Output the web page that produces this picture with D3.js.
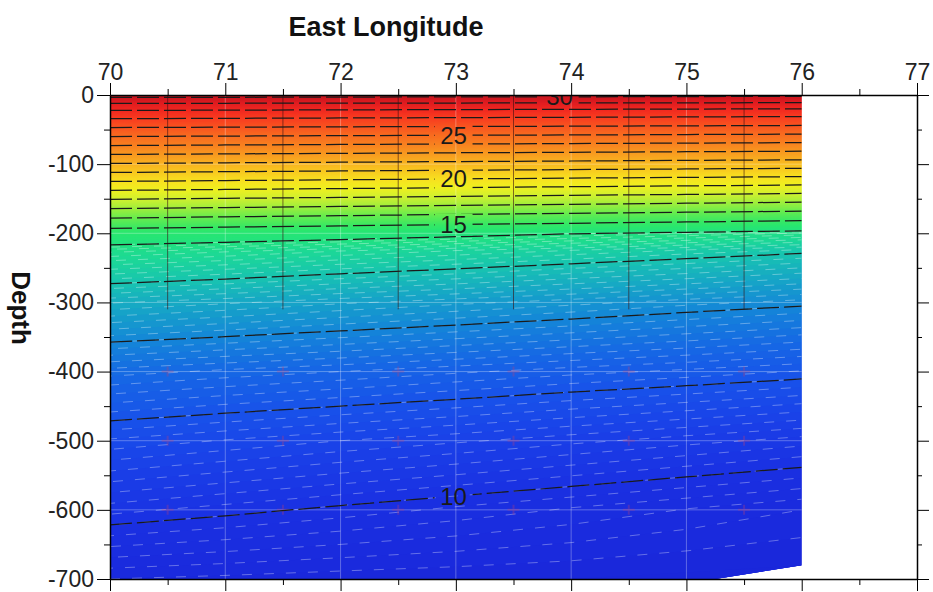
<!DOCTYPE html>
<html>
<head>
<meta charset="utf-8">
<script src="https://cdn.jsdelivr.net/npm/d3@7"></script>
<style>
  body { margin: 0; background: #fff; }
  svg text { font-family: "Liberation Sans", Arial, Helvetica, sans-serif; }
</style>
</head>
<body>
<svg id="chart" width="933" height="592"></svg>
<script>
// station section: temperature (deg C) by longitude and depth
const lons = [70, 71, 72, 73, 74, 75, 76];
const depths = [0, -10, -20, -30, -50, -75, -100, -125, -150, -175, -200, -225, -250, -300, -400, -500, -600, -700];
const temps = [
  [30.4, 30.4, 30.35, 30.3, 30.3, 30.25, 30.2],
  [29.22, 29.2, 29.19, 29.17, 29.16, 29.14, 29.13],
  [28.2, 28.17, 28.13, 28.1, 28.07, 28.03, 28.0],
  [27.33, 27.29, 27.25, 27.21, 27.17, 27.13, 27.09],
  [25.77, 25.73, 25.69, 25.65, 25.62, 25.58, 25.54],
  [23.85, 23.79, 23.73, 23.67, 23.62, 23.56, 23.5],
  [21.92, 21.85, 21.78, 21.71, 21.64, 21.57, 21.5],
  [20.0, 19.9, 19.81, 19.71, 19.61, 19.52, 19.42],
  [18.08, 17.96, 17.85, 17.73, 17.61, 17.5, 17.38],
  [16.21, 16.08, 15.96, 15.83, 15.71, 15.58, 15.46],
  [14.53, 14.4, 14.28, 14.15, 14.02, 13.9, 13.77],
  [13.74, 13.63, 13.51, 13.4, 13.29, 13.17, 13.06],
  [13.33, 13.23, 13.12, 13.02, 12.91, 12.81, 12.7],
  [12.61, 12.52, 12.42, 12.33, 12.24, 12.14, 12.05],
  [11.55, 11.47, 11.4, 11.32, 11.24, 11.17, 11.09],
  [10.78, 10.69, 10.6, 10.52, 10.43, 10.34, 10.25],
  [10.14, 10.05, 9.96, 9.87, 9.78, 9.69, 9.6],
  [9.5, 9.47, 9.44, 9.42, 9.4, 9.37, 9.35]
];
// sea floor along the section
const bottomLons = [70, 75.25, 76];
const bottomDepths = [-700, -700, -680];
// station profiles
const stationLons = [70.5, 71.5, 72.5, 73.5, 74.5, 75.5];
const stationMarkDepths = [-400, -500, -600];
// contours
const lineLevels = d3.range(10, 31);
const labelLevels = [30, 25, 20, 15, 10];
const labelLons = [73.9, 72.98, 72.98, 72.98, 72.98];
// axes
const xMajor = d3.range(70, 78);
const xMinor = d3.range(70.5, 77, 1);
const yMajor = d3.range(0, -701, -100);
const yMinor = d3.range(-50, -700, -100);

// colour ramp
const colorStops = [9, 10, 10.5, 11, 11.5, 12, 12.5, 13, 13.5, 14, 14.5, 15, 16, 17, 18, 19, 20, 21, 22, 23, 24, 25, 26, 27, 28, 29, 30, 30.5];
const colorRange = ["#1a22d6", "#1a30e2", "#1a40e8", "#1852ea", "#1668e4", "#1486d8", "#16a6c6", "#18c4b0", "#1cd896", "#22e27e",
  "#28e670", "#38e864", "#68ec4e", "#a0ee3c", "#d0f030", "#eef020", "#f8e020", "#f8c820", "#f8b020", "#f89820",
  "#f88020", "#f86c20", "#f85420", "#f83c20", "#f02820", "#e01c20", "#c81820", "#b81420"];
const color = d3.scaleLinear().domain(colorStops).range(colorRange).clamp(true);

const svg = d3.select("#chart");
const x = d3.scaleLinear().domain([70, 77]).range([110, 917]);
const y = d3.scaleLinear().domain([0, -700]).range([95, 579]);

// depth of isotherm v in station column c
function isoDepth(c, v) {
  const col = temps.map(r => r[c]);
  if (v >= col[0]) return 0;
  for (let k = 1; k < col.length; k++) {
    if (col[k] <= v) {
      const t = (col[k - 1] - v) / (col[k - 1] - col[k]);
      return depths[k - 1] + t * (depths[k] - depths[k - 1]);
    }
  }
  return depths[depths.length - 1];
}
const iso = v => lons.map((lon, c) => ({lon, depth: isoDepth(c, v)}));
const isoAt = (v, lon) => d3.scaleLinear().domain(lons).range(iso(v).map(d => d.depth))(lon);

const defs = svg.append("defs");
const outline = [[70, 0], [76, 0]].concat(bottomLons.map((l, i) => [l, bottomDepths[i]]).reverse());
defs.append("clipPath").attr("id", "dataclip")
  .append("path")
  .attr("d", d3.line().x(d => x(d[0])).y(d => y(d[1]))(outline) + "Z");

const labels = labelLevels.map((v, i) => ({v, lon: labelLons[i], depth: isoAt(v, labelLons[i])}));

const mask = defs.append("mask").attr("id", "lblmask")
  .attr("maskUnits", "userSpaceOnUse")
  .attr("x", 0).attr("y", 0).attr("width", 933).attr("height", 592);
mask.append("rect").attr("width", 933).attr("height", 592).attr("fill", "#fff");
mask.selectAll("rect.hole").data(labels).join("rect")
  .attr("class", "hole")
  .attr("x", d => x(d.lon) - 19).attr("y", d => y(d.depth) - 11)
  .attr("width", 38).attr("height", 22).attr("fill", "#000");

const plot = svg.append("g").attr("clip-path", "url(#dataclip)");

// filled temperature bands, painted warm over cold
plot.append("rect")
  .attr("x", x(70)).attr("y", y(0))
  .attr("width", x(76) - x(70)).attr("height", y(-700) - y(0))
  .attr("fill", color(9));

const band = d3.area().x(d => x(d.lon)).y0(y(0)).y1(d => y(d.depth));
const fillLevels = d3.range(91, 305).map(i => i / 10);
plot.append("g")
  .selectAll("path")
  .data(fillLevels)
  .join("path")
    .attr("fill", v => color(v + 0.05))
    .attr("d", v => band(iso(v)));

const line = d3.line().x(d => x(d.lon)).y(d => y(d.depth));

// faint light texture in the deep water
const textureLevels = d3.range(95, 141).map(i => i / 10);
plot.append("g")
    .attr("fill", "none")
    .attr("stroke", "#fff")
    .attr("stroke-opacity", 0.33)
    .attr("stroke-width", 1)
  .selectAll("path")
  .data(textureLevels)
  .join("path")
    .attr("stroke-dasharray", "10 12")
    .attr("stroke-dashoffset", (v, i) => (i * 7) % 22)
    .attr("d", v => line(iso(v)));

// white grid
const grid = plot.append("g").attr("stroke", "#fff").attr("stroke-opacity", 0.3).attr("stroke-width", 1);
grid.selectAll("line.gx").data(xMajor.slice(1, -1)).join("line")
  .attr("class", "gx")
  .attr("x1", d => x(d)).attr("x2", d => x(d))
  .attr("y1", y(0)).attr("y2", y(-700));
grid.selectAll("line.gy").data(yMajor.slice(1, -1)).join("line")
  .attr("class", "gy")
  .attr("x1", x(70)).attr("x2", x(77))
  .attr("y1", d => y(d)).attr("y2", d => y(d));

// station profiles
plot.append("g")
    .attr("stroke", "#3a1010")
    .attr("stroke-opacity", 0.6)
  .selectAll("line")
  .data(stationLons)
  .join("line")
    .attr("x1", d => x(d)).attr("x2", d => x(d))
    .attr("y1", y(0)).attr("y2", y(-310));

const marks = stationLons.flatMap(lon => stationMarkDepths.map(depth => ({lon, depth})));
plot.append("g")
    .attr("stroke", "#c04070")
    .attr("stroke-opacity", 0.3)
    .attr("stroke-width", 2)
  .selectAll("path")
  .data(marks)
  .join("path")
    .attr("d", d => `M${x(d.lon) - 6},${y(d.depth)}h12M${x(d.lon)},${y(d.depth) - 5}v10`);

// isotherms
plot.append("g")
    .attr("mask", "url(#lblmask)")
    .attr("fill", "none")
    .attr("stroke", "#1a1a1a")
    .attr("stroke-width", 1.25)
    .attr("stroke-dasharray", "22 5")
  .selectAll("path")
  .data(lineLevels)
  .join("path")
    .attr("d", v => line(iso(v)));

plot.append("g")
  .selectAll("text")
  .data(labels)
  .join("text")
    .attr("x", d => x(d.lon))
    .attr("y", d => y(d.depth))
    .attr("text-anchor", "middle")
    .attr("dominant-baseline", "central")
    .attr("font-size", 24)
    .attr("fill", "#1a1a1a")
    .text(d => d.v);

// axes
function styleAxis(g, labelled) {
  g.attr("font-size", 23).attr("font-family", "Liberation Sans, Arial, sans-serif");
  g.select(".domain").attr("stroke", "#000").attr("stroke-width", 1.5);
  g.selectAll(".tick line").attr("stroke", "#000");
  g.selectAll(".tick text").attr("fill", "#222");
  if (!labelled) g.select(".domain").remove();
}

svg.append("g").attr("transform", `translate(0,${y(0)})`)
  .call(d3.axisTop(x).tickValues(xMajor).tickSize(12).tickSizeOuter(0).tickPadding(3).tickFormat(d3.format("d")))
  .call(g => styleAxis(g, true));
svg.append("g").attr("transform", `translate(0,${y(0)})`)
  .call(d3.axisTop(x).tickValues(xMinor).tickSize(6).tickFormat(""))
  .call(g => styleAxis(g, false));

svg.append("g").attr("transform", `translate(0,${y(-700)})`)
  .call(d3.axisBottom(x).tickValues(xMajor).tickSize(12).tickSizeOuter(0).tickFormat(""))
  .call(g => styleAxis(g, true));
svg.append("g").attr("transform", `translate(0,${y(-700)})`)
  .call(d3.axisBottom(x).tickValues(xMinor).tickSize(6).tickFormat(""))
  .call(g => styleAxis(g, false));

svg.append("g").attr("transform", `translate(${x(70)},0)`)
  .call(d3.axisLeft(y).tickValues(yMajor).tickSize(13).tickSizeOuter(0).tickPadding(3).tickFormat(d => String(d)))
  .call(g => styleAxis(g, true));
svg.append("g").attr("transform", `translate(${x(70)},0)`)
  .call(d3.axisLeft(y).tickValues(yMinor).tickSize(6).tickFormat(""))
  .call(g => styleAxis(g, false));

svg.append("g").attr("transform", `translate(${x(77)},0)`)
  .call(d3.axisRight(y).tickValues(yMajor).tickSize(12).tickSizeOuter(0).tickFormat(""))
  .call(g => styleAxis(g, true));
svg.append("g").attr("transform", `translate(${x(77)},0)`)
  .call(d3.axisRight(y).tickValues(yMinor).tickSize(5).tickFormat(""))
  .call(g => styleAxis(g, false));

// titles
svg.append("text")
  .attr("x", 386).attr("y", 36)
  .attr("text-anchor", "middle")
  .attr("font-size", 27)
  .attr("font-weight", "bold")
  .attr("fill", "#111")
  .text("East Longitude");

svg.append("text")
  .attr("transform", "translate(12,308) rotate(90)")
  .attr("text-anchor", "middle")
  .attr("font-size", 26)
  .attr("font-weight", "bold")
  .attr("fill", "#111")
  .text("Depth");
</script>
</body>
</html>
